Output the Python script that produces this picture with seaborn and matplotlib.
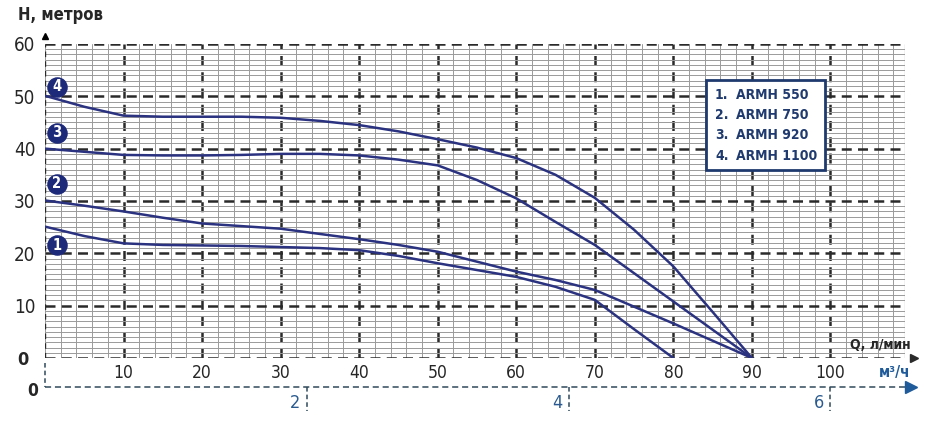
import numpy as np
import pandas as pd
import seaborn as sns
import matplotlib
matplotlib.use('Agg')
import matplotlib.pyplot as plt
from matplotlib.ticker import MultipleLocator
from matplotlib.patches import Rectangle
from matplotlib import font_manager

# flow, l/min
q = [0, 5, 10, 15, 20, 25, 30, 35, 40, 45, 50, 55, 60, 65, 70, 75, 80, 85, 90]
# head, m
h_550 = [25.1, 23.3, 21.9, 21.6, 21.5, 21.4, 21.2, 21.0, 20.6, 19.5, 18.1,
         16.8, 15.5, 13.6, 11.1, 5.5, 0.0]
h_750 = [30.1, 29.1, 28.0, 26.8, 25.7, 25.2, 24.7, 23.7, 22.7, 21.6, 20.3,
         18.4, 16.5, 14.9, 13.0, 9.8, 6.6, 3.3, 0.0]
h_920 = [40.0, 39.4, 38.8, 38.7, 38.7, 38.8, 39.0, 39.0, 38.7, 37.9, 36.8,
         34.0, 30.5, 26.0, 21.6, 16.2, 10.8, 5.4, 0.0]
h_1100 = [50.1, 48.0, 46.3, 46.1, 46.1, 46.1, 45.9, 45.3, 44.5, 43.3, 41.8,
          40.2, 38.2, 35.0, 30.6, 24.5, 17.5, 8.8, 0.0]

models = ['ARMH 550', 'ARMH 750', 'ARMH 920', 'ARMH 1100']
badge_q = [1.5, 1.5, 1.5, 1.5]
badge_h = [21.5, 33.3, 43.0, 51.8]
m3h_ticks = [2, 4, 6]

navy = '#2b3380'
text_blue = '#1f3a6e'

frames = []
for name, h in zip(models, [h_550, h_750, h_920, h_1100]):
    frames.append(pd.DataFrame({'Q': q[:len(h)], 'H': h, 'model': name}))
df = pd.concat(frames)

sns.set_style('white')
names = {f.name for f in font_manager.fontManager.ttflist}
fam = [n for n in ['Liberation Sans Narrow', 'DejaVu Sans'] if n in names]
plt.rcParams['font.family'] = fam
plt.rcParams['font.stretch'] = 'condensed'

fig = plt.figure(figsize=(9.4, 4.24), dpi=100)
ax = fig.add_axes([0.0479, 0.1557, 0.9149, 0.7406])

ax.set_xlim(0, 109.5)
ax.set_ylim(0, 60)
ax.xaxis.set_major_locator(MultipleLocator(10))
ax.xaxis.set_minor_locator(MultipleLocator(2))
ax.yaxis.set_major_locator(MultipleLocator(10))
ax.yaxis.set_minor_locator(MultipleLocator(1))
ax.grid(which='minor', color='#9a9a9a', lw=0.7, ls='-')
ax.grid(which='major', color='#2a2a2a', lw=1.8, ls=(0, (4, 2.5)))
ax.set_axisbelow(True)
for s in ax.spines.values():
    s.set_visible(False)
ax.axvline(109.5, color='#9a9a9a', lw=0.9)
ax.axvline(0, color='#2a2a2a', lw=1.0, ls=(0, (4, 3)))

sns.lineplot(data=df, x='Q', y='H', hue='model', palette=[navy] * 4,
             lw=1.8, legend=False, ax=ax, sort=False)

ax.set_xlabel('')
ax.set_ylabel('')
ax.tick_params(length=0)
ax.set_xticks(range(10, 101, 10))
ax.set_xticklabels([str(v) for v in range(10, 101, 10)], fontsize=12.5)
ax.tick_params(axis='x', pad=4)
ax.set_yticks(range(0, 61, 10))
ax.set_yticklabels([''] + [str(v) for v in range(10, 61, 10)], fontsize=13.5)
ax.tick_params(axis='y', pad=7)
ax.text(-0.0255, -0.006, '0', transform=ax.transAxes, fontsize=13,
        fontweight='bold', ha='center', va='center')

# numbered badges
ax.scatter(badge_q, badge_h, s=190, color='#1d2a7a', zorder=5, clip_on=False)
for i, (bq, bh) in enumerate(zip(badge_q, badge_h)):
    ax.text(bq, bh, str(i + 1), color='white', fontsize=10.5, fontweight='bold',
            ha='center', va='center', zorder=6)

# legend box
ax.add_patch(Rectangle((0.768, 0.599), 0.139, 0.286, transform=ax.transAxes,
                       fc='white', ec=text_blue, lw=2, zorder=7))
rows_y = [0.838, 0.774, 0.710, 0.643]
for i, (m, ry) in enumerate(zip(models, rows_y)):
    ax.text(0.779, ry, f'{i + 1}.', transform=ax.transAxes, fontsize=10,
            fontweight='bold', color=text_blue, va='center', ha='left',
            zorder=8)
    ax.text(0.804, ry, m, transform=ax.transAxes, fontsize=10,
            fontweight='bold', color=text_blue, va='center', ha='left',
            zorder=8)

# axis arrows and titles
ax.plot([0], [61.6], marker='^', color='black', ms=5, clip_on=False)
ax.plot([110.6], [0], marker='>', color='#2a2a2a', ms=6, clip_on=False)
fig.text(0.019, 0.965, 'H, метров', fontsize=12, fontweight='bold',
         ha='left', va='center')
ax.text(110.2, 1.2, 'Q, л/мин', fontsize=10, fontweight='bold',
        ha='right', va='bottom')

# second flow scale, m3/h
xt = ax.get_xaxis_transform()
y2 = -0.0924
ax.plot([0, 109.5], [y2, y2], color='#2f4a5a', lw=1.1, ls=(0, (4, 2.5)),
        transform=xt, clip_on=False)
ax.plot([0, 0], [-0.016, y2], color='#2f4a5a', lw=1.1, ls=(0, (3, 2)),
        transform=xt, clip_on=False)
ax.plot([110.3], [y2], marker='>', color='#1f5a9a', ms=9, transform=xt,
        clip_on=False)
for t in m3h_ticks:
    ql = t * 1000 / 60
    ax.plot([ql, ql], [y2, y2 - 0.075], color='#2f4a5a', lw=1.1,
            ls=(0, (3, 2)), transform=xt, clip_on=False)
    ax.text(ql - 0.8, y2 - 0.05, str(t), color='#2a5a8f', fontsize=13,
            ha='right', va='center', transform=xt)
ax.text(-0.9, y2 - 0.012, '0', fontsize=12.5, fontweight='bold', ha='right',
        va='center', transform=xt)
ax.text(110.2, -0.047, 'м³/ч', fontsize=11, fontweight='bold',
        color='#1f5a9a', ha='right', va='center', transform=xt)

fig.savefig('out.png', dpi=100)
